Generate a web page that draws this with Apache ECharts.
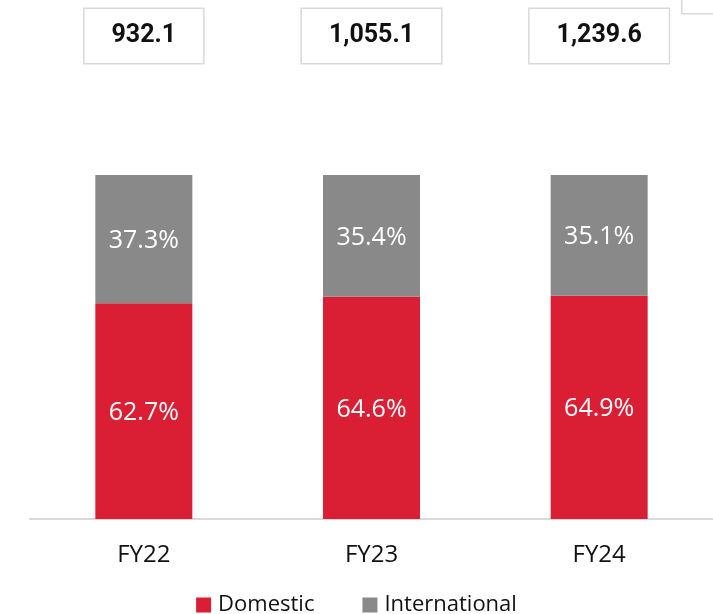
<!DOCTYPE html>
<html>
<head>
<meta charset="utf-8">
<style>
html, body { margin: 0; padding: 0; background: #fff; }
#main { width: 713px; height: 614px; }
</style>
<script src="https://cdn.jsdelivr.net/npm/echarts@6/dist/echarts.min.js"></script>
</head>
<body>
<div id="main"></div>
<script>
var categories = ['FY22', 'FY23', 'FY24'];
var domestic = [62.7, 64.6, 64.9];
var international = [37.3, 35.4, 35.1];
var totals = ['932.1', '1,055.1', '1,239.6'];

var myChart = echarts.init(document.getElementById('main'));

function pct(p) {
	return p.value.toFixed(1) + '%';
}

var option = {
	animation: false,
	textStyle: { fontFamily: '"Open Sans", "Noto Sans", sans-serif' },
	legend: {
		top: 588,
		left: 'center',
		itemWidth: 15,
		itemHeight: 15,
		itemGap: 48,
		icon: 'rect',
		textStyle: { fontSize: 22, lineHeight: 24, color: '#111', padding: [0, 0, 0, 2] },
		data: ['Domestic', 'International']
	},
	grid: {
		left: 30,
		right: -1,
		top: 175,
		bottom: 95
	},
	graphic: [
		{
			type: 'rect',
			left: 681,
			top: -2,
			shape: { width: 40, height: 15 },
			style: { fill: '#fff', stroke: '#d9d9d9', lineWidth: 1.5 }
		}
	],
	xAxis: {
		type: 'category',
		data: categories,
		axisLine: { lineStyle: { color: '#d9d9d9', width: 2 } },
		axisTick: { show: false },
		axisLabel: { fontSize: 24, color: '#111', margin: 24 }
	},
	yAxis: {
		type: 'value',
		min: 0,
		max: 100,
		show: false,
		splitLine: { show: false }
	},
	series: [
		{
			name: 'Domestic',
			type: 'bar',
			stack: 'share',
			barWidth: 97,
			itemStyle: { color: '#da1e33' },
			label: { show: true, position: 'inside', color: '#fff', fontSize: 25, offset: [0, 2], formatter: pct },
			data: domestic
		},
		{
			name: 'International',
			type: 'bar',
			stack: 'share',
			barWidth: 97,
			itemStyle: { color: '#898989' },
			label: { show: true, position: 'inside', color: '#fff', fontSize: 25, offset: [0, 2], formatter: pct },
			data: international
		},
		{
			name: 'Total',
			type: 'bar',
			stack: 'share',
			barWidth: 97,
			itemStyle: { color: 'transparent' },
			silent: true,
			label: {
				show: true,
				position: 'top',
				distance: 112,
				formatter: function (p) { return totals[p.dataIndex]; },
				fontFamily: 'Roboto, sans-serif',
				fontWeight: 'bold',
				fontSize: 25,
				lineHeight: 30,
				color: '#111',
				backgroundColor: '#fff',
				borderColor: '#d9d9d9',
				borderWidth: 1.5,
				padding: [12, 27, 12, 27]
			},
			data: [0, 0, 0]
		}
	]
};

myChart.setOption(option);
</script>
</body>
</html>
